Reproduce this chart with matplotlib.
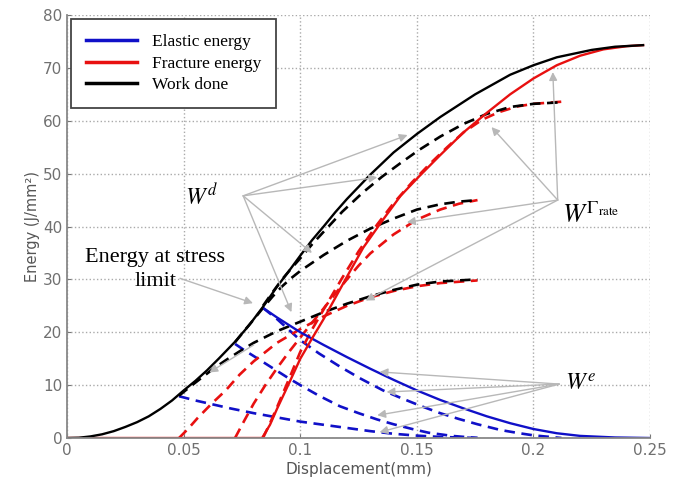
import numpy as np
import matplotlib.pyplot as plt

plt.rcParams['mathtext.fontset'] = 'stix'

# main curves (displacement in mm, energy in J/mm^2)
x_work = [0, 0.005, 0.01, 0.015, 0.02, 0.025, 0.03, 0.035, 0.04, 0.045, 0.05, 0.055,
          0.06, 0.065, 0.072, 0.078, 0.084, 0.09, 0.095, 0.1, 0.105, 0.11, 0.115,
          0.12, 0.125, 0.13, 0.14, 0.15, 0.16, 0.175, 0.19, 0.2, 0.21, 0.225,
          0.235, 0.247]
y_work = [0, 0.05, 0.3, 0.7, 1.3, 2.1, 3.0, 4.1, 5.5, 7.1, 9.0, 10.8,
          12.8, 15.0, 18.2, 21.3, 24.8, 28.6, 31.5, 34.5, 37.4, 40.0, 42.7,
          45.2, 47.5, 49.8, 54.0, 57.5, 60.7, 65.0, 68.7, 70.5, 72.0, 73.4,
          74.0, 74.3]

x_frac = [0, 0.0836, 0.087, 0.09, 0.095, 0.1, 0.105, 0.11, 0.115, 0.12, 0.127,
          0.135, 0.143, 0.151, 0.16, 0.17, 0.18, 0.19, 0.2, 0.21, 0.22, 0.23,
          0.24, 0.247]
y_frac = [0, 0, 2.5, 5.5, 10.2, 15.0, 18.8, 22.5, 26.5, 30.5, 36.0,
          41.0, 45.8, 49.5, 53.5, 57.8, 61.5, 65.0, 68.0, 70.5, 72.3, 73.5,
          74.1, 74.3]

x_elas = [0.084, 0.09, 0.1, 0.11, 0.12, 0.13, 0.14, 0.15, 0.16, 0.17, 0.18,
          0.19, 0.2, 0.21, 0.22, 0.235, 0.25]
y_elas = [24.6, 22.8, 20.0, 17.6, 15.3, 13.1, 11.0, 9.0, 7.2, 5.6, 4.1,
          2.8, 1.7, 0.9, 0.4, 0.1, 0.0]

# dashed sets, one per lower stress limit
xd_w1 = [0.048, 0.053, 0.058, 0.063, 0.068, 0.074, 0.08, 0.09, 0.1, 0.11, 0.12,
         0.13, 0.14, 0.15, 0.16, 0.176]
yd_w1 = [8.0, 9.8, 11.5, 13.2, 14.7, 16.4, 18.0, 20.2, 22.0, 23.8, 25.4,
         26.8, 28.0, 29.0, 29.6, 30.0]
xd_f1 = [0.048, 0.052, 0.056, 0.062, 0.068, 0.074, 0.08, 0.09, 0.1, 0.11, 0.12,
         0.13, 0.14, 0.15, 0.16, 0.176]
yd_f1 = [0, 1.8, 3.8, 6.5, 9.0, 12.0, 14.5, 18.0, 20.6, 23.0, 25.0,
         26.6, 27.8, 28.7, 29.3, 29.8]
xd_e1 = [0.048, 0.055, 0.062, 0.07, 0.08, 0.09, 0.1, 0.11, 0.12, 0.13, 0.14,
         0.15, 0.16, 0.176]
yd_e1 = [7.9, 7.1, 6.4, 5.6, 4.7, 3.9, 3.1, 2.5, 1.9, 1.3, 0.8,
         0.45, 0.2, 0.0]

xd_w2 = [0.072, 0.076, 0.08, 0.084, 0.088, 0.092, 0.096, 0.1, 0.11, 0.12, 0.13,
         0.14, 0.15, 0.16, 0.168, 0.176]
yd_w2 = [18.1, 20.3, 22.4, 24.6, 26.7, 28.6, 30.2, 31.6, 34.6, 37.3, 39.6,
         41.5, 43.2, 44.2, 44.7, 45.0]
xd_f2 = [0.072, 0.076, 0.08, 0.085, 0.09, 0.095, 0.1, 0.105, 0.11, 0.115, 0.12,
         0.125, 0.13, 0.14, 0.15, 0.16, 0.168, 0.176]
yd_f2 = [0, 3.3, 6.5, 10.0, 13.2, 16.2, 19.0, 21.8, 24.5, 27.3, 30.0,
         32.6, 34.9, 38.5, 41.3, 43.2, 44.3, 45.0]
xd_e2 = [0.072, 0.076, 0.08, 0.085, 0.09, 0.095, 0.1, 0.108, 0.117, 0.125, 0.133,
         0.14, 0.148, 0.155, 0.165, 0.176]
yd_e2 = [17.8, 16.6, 15.5, 14.1, 12.7, 11.3, 10.0, 8.0, 6.0, 4.7, 3.5,
         2.6, 1.7, 1.0, 0.4, 0.0]

xd_w3 = [0.084, 0.088, 0.092, 0.096, 0.1, 0.105, 0.11, 0.118, 0.127, 0.135, 0.143,
         0.151, 0.16, 0.17, 0.18, 0.19, 0.2, 0.212]
yd_w3 = [25.0, 27.5, 29.9, 32.0, 34.0, 36.6, 39.0, 42.8, 46.5, 49.4, 52.0,
         54.5, 57.0, 59.4, 61.3, 62.6, 63.2, 63.5]
xd_f3 = [0.084, 0.087, 0.09, 0.095, 0.1, 0.105, 0.11, 0.118, 0.125, 0.133, 0.14,
         0.148, 0.155, 0.163, 0.17, 0.178, 0.185, 0.193, 0.2, 0.212]
yd_f3 = [0, 2.8, 5.8, 11.0, 16.3, 20.5, 24.3, 30.3, 35.3, 40.4, 44.4,
         48.4, 51.6, 55.0, 57.8, 60.2, 61.6, 62.7, 63.2, 63.6]
xd_e3 = [0.084, 0.09, 0.095, 0.1, 0.108, 0.117, 0.126, 0.1355, 0.143, 0.152, 0.16,
         0.168, 0.176, 0.186, 0.194, 0.2, 0.212]
yd_e3 = [24.6, 22.5, 20.5, 18.5, 16.0, 13.5, 11.2, 9.0, 7.6, 6.0, 4.7,
         3.6, 2.6, 1.5, 0.9, 0.5, 0.0]

BLUE = '#1010c8'
RED = '#e81010'
BLACK = '#000000'
ARROW = '#b8b8b8'

fig = plt.figure(figsize=(6.85, 4.87), dpi=100)
ax = fig.add_axes([0.098, 0.1006, 0.851, 0.8686])

dash = dict(lw=1.9, ls=(0, (4, 2.5)))
for xs, ys in [(xd_e1, yd_e1), (xd_e2, yd_e2), (xd_e3, yd_e3)]:
    ax.plot(xs, ys, color=BLUE, **dash)
for xs, ys in [(xd_f1, yd_f1), (xd_f2, yd_f2), (xd_f3, yd_f3)]:
    ax.plot(xs, ys, color=RED, **dash)
for xs, ys in [(xd_w1, yd_w1), (xd_w2, yd_w2), (xd_w3, yd_w3)]:
    ax.plot(xs, ys, color=BLACK, **dash)

ax.plot(x_elas, y_elas, color=BLUE, lw=1.7, label='Elastic energy')
ax.plot(x_frac, y_frac, color=RED, lw=1.7, label='Fracture energy')
ax.plot(x_work, y_work, color=BLACK, lw=1.7, label='Work done')

ax.set_xlim(0, 0.25)
ax.set_ylim(0, 80)
ax.set_xticks([0, 0.05, 0.1, 0.15, 0.2, 0.25])
ax.set_xticklabels(['0', '0.05', '0.1', '0.15', '0.2', '0.25'])
ax.set_yticks(range(0, 81, 10))
ax.grid(True, ls=':', color='#aaaaaa', lw=1.0)
ax.tick_params(direction='in', colors='#777777', labelcolor='#707070',
               labelsize=11, length=3)
for s in ['top', 'right']:
    ax.spines[s].set_visible(False)
for s in ['left', 'bottom']:
    ax.spines[s].set_color('#888888')
    ax.spines[s].set_linewidth(1.3)
ax.set_xlabel('Displacement(mm)', color='#555555', fontsize=11, labelpad=3)
ax.set_ylabel('Energy (J/mm²)', color='#555555', fontsize=10.5, labelpad=2)

leg = ax.legend(loc='upper left', prop={'family': 'Liberation Serif', 'size': 12.5},
                handlelength=2.9, fancybox=False, framealpha=1,
                borderaxespad=0.25, labelspacing=0.3, borderpad=0.85,
                handletextpad=0.9)
leg.get_frame().set_edgecolor('#444444')
leg.get_frame().set_linewidth(1.3)
for h in leg.get_lines():
    h.set_linewidth(2.5)


def arrows(src, tips):
    for t in tips:
        ax.annotate('', xy=t, xytext=src,
                    arrowprops=dict(arrowstyle='-|>', color=ARROW, lw=1.0,
                                    mutation_scale=12, shrinkA=0, shrinkB=0))


serif = 'Liberation Serif'
ax.text(0.0505, 45.5, r'$W^{d}$', fontsize=17, va='center', ha='left')
arrows((0.0755, 45.8), [(0.146, 57.3), (0.133, 49.3), (0.105, 35.0), (0.0962, 23.8)])
arrows((0.08, 17.6), [(0.061, 12.4)])

ax.text(0.0378, 31.9, 'Energy at stress\nlimit', family=serif, fontsize=16,
        ha='center', va='center', linespacing=1.35)
arrows((0.0484, 30.2), [(0.0797, 25.5)])

ax.text(0.2122, 42.0, r'$W^{\Gamma_{\mathrm{rate}}}$', fontsize=19, va='center', ha='left')
arrows((0.2104, 45.0), [(0.2083, 69.2), (0.182, 58.8), (0.1457, 40.8), (0.128, 26.0)])

ax.text(0.2135, 10.3, r'$W^{e}$', fontsize=17, va='center', ha='left')
arrows((0.211, 10.2), [(0.134, 12.5), (0.137, 8.7), (0.133, 4.3), (0.134, 1.1)])

fig.savefig('out.png', dpi=100)
